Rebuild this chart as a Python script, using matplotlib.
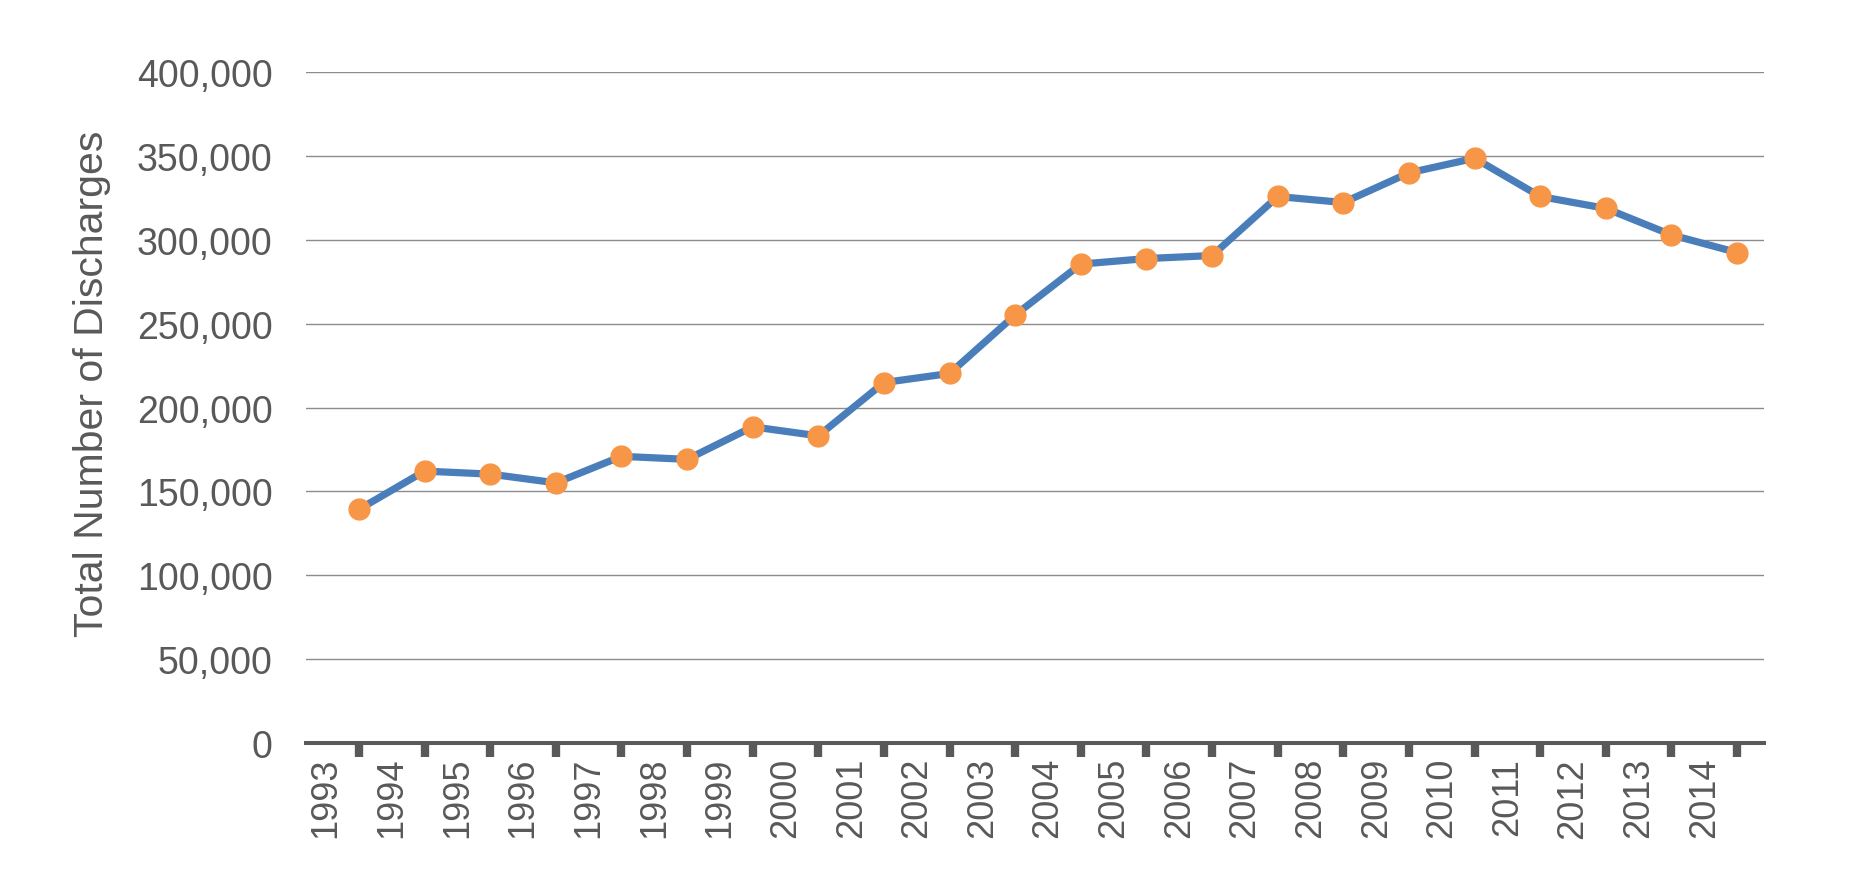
import numpy as np
import matplotlib
matplotlib.use("Agg")
import matplotlib.pyplot as plt
from matplotlib.ticker import FuncFormatter, FixedLocator

# Datos
years = [str(y) for y in range(1993, 2015)]
discharges = [139300, 162100, 160300, 155100, 170900, 169100, 188500, 183100,
              214900, 220300, 255200, 285500, 288800, 290600, 325800, 322200,
              339900, 348600, 325800, 318700, 302900, 292400]
y_ticks = [0, 50000, 100000, 150000, 200000, 250000, 300000, 350000, 400000]

TEXT_GRAY = "#595959"
LINE_BLUE = "#4A7EBB"
MARKER_ORANGE = "#F79646"

plt.rcParams['font.family'] = ['Liberation Sans', 'DejaVu Sans']

fig = plt.figure(figsize=(18.6, 8.95), dpi=100)
ax = fig.add_axes([0.1645, 0.1687, 0.7839, 0.7497])

x = np.arange(len(years))
ax.plot(x, discharges, color=LINE_BLUE, linewidth=5.2, zorder=3,
        marker="o", markersize=15, markerfacecolor=MARKER_ORANGE,
        markeredgecolor=MARKER_ORANGE, solid_capstyle="round")

ax.set_xlim(-0.808, 21.41)
ax.set_ylim(0, 400000)

# Ejes y cuadrícula
ax.set_yticks(y_ticks)
ax.yaxis.set_major_formatter(FuncFormatter(lambda v, p: f"{int(v):,}"))
ax.yaxis.grid(True, color="#8c8c8c", linewidth=1.0)
ax.set_axisbelow(True)
ax.tick_params(axis="y", length=0, pad=24, labelsize=27, labelcolor=TEXT_GRAY)

ax.xaxis.set_major_locator(FixedLocator(x))
ax.xaxis.set_minor_locator(FixedLocator(x - 0.5))
ax.set_xticklabels([], minor=False)
ax.set_xticklabels(years, minor=True, rotation=90)
ax.tick_params(axis="x", which="major", direction="out", length=10,
               width=6, color=TEXT_GRAY)
ax.tick_params(axis="x", which="minor", length=0, pad=10,
               labelsize=26, labelcolor=TEXT_GRAY)

for side in ["top", "left", "right"]:
    ax.spines[side].set_visible(False)
ax.spines["bottom"].set_color(TEXT_GRAY)
ax.spines["bottom"].set_linewidth(2.9)

ax.set_ylabel("Total Number of Discharges", fontsize=29.5, color=TEXT_GRAY)
ax.yaxis.set_label_coords(-0.134, 0.537)

fig.savefig("out.png", dpi=100, facecolor="white")
